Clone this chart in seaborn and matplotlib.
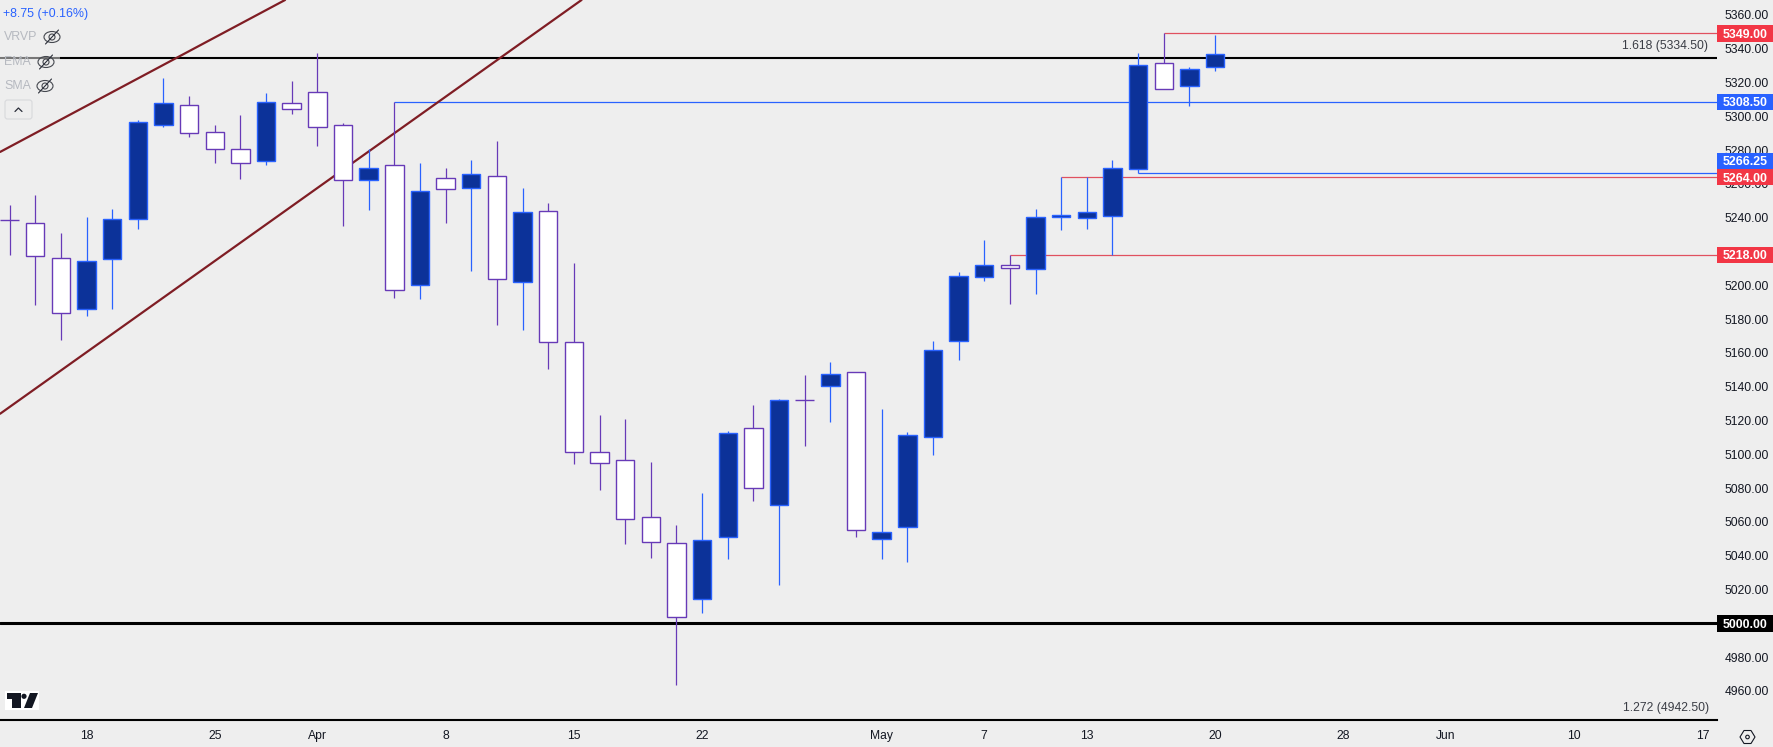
import matplotlib
matplotlib.use('Agg')
import matplotlib.pyplot as plt
from matplotlib.patches import Circle, Ellipse, FancyBboxPatch, Polygon, Rectangle
from matplotlib.transforms import blended_transform_factory
import numpy as np
import pandas as pd
import seaborn as sns

# daily candles, index 0 is 13 Mar
opens = [5238.5, 5236.7, 5216.0, 5185.8, 5215.4, 5239.5, 5294.7, 5306.5, 5290.5, 5280.5, 5273.4, 5307.7,
         5314.2, 5294.7, 5262.5, 5271.0, 5200.0, 5263.3, 5257.8, 5264.5, 5201.8, 5243.8, 5166.3, 5101.2,
         5096.5, 5062.8, 5047.4, 5014.2, 5050.9, 5115.4, 5069.9, 5132.0, 5140.3, 5148.5, 5049.7, 5056.8,
         5110.1, 5166.9, 5204.7, 5211.8, 5209.5, 5240.5, 5240.0, 5241.2, 5268.6, 5331.3, 5318.1, 5329.0]
highs = [5247.5, 5253.5, 5230.8, 5240.2, 5245.2, 5297.8, 5322.7, 5312.0, 5294.9, 5300.8, 5313.8, 5320.9,
         5337.3, 5295.8, 5280.5, 5308.5, 5272.4, 5269.4, 5274.2, 5285.4, 5257.6, 5248.7, 5213.2, 5123.3,
         5120.9, 5095.5, 5058.2, 5077.2, 5113.8, 5129.2, 5132.8, 5147.0, 5154.7, 5148.5, 5126.8, 5113.2,
         5167.1, 5207.9, 5226.8, 5218.0, 5245.2, 5264.0, 5264.0, 5274.2, 5337.5, 5349.0, 5329.2, 5348.1]
lows = [5218.0, 5188.4, 5167.7, 5182.1, 5186.2, 5233.3, 5293.7, 5288.0, 5272.6, 5262.9, 5271.4, 5301.4,
        5282.6, 5235.3, 5244.6, 5192.7, 5192.1, 5237.1, 5208.7, 5176.5, 5173.6, 5150.3, 5094.5, 5079.1,
        5047.2, 5038.9, 4963.8, 5006.4, 5038.3, 5072.6, 5022.9, 5105.2, 5119.4, 5051.3, 5038.3, 5036.5,
        5099.8, 5155.8, 5202.8, 5189.2, 5195.1, 5232.9, 5233.5, 5218.0, 5266.25, 5316.0, 5306.3, 5327.0]
closes = [5238.5, 5217.6, 5183.5, 5214.2, 5239.5, 5296.4, 5307.7, 5289.9, 5280.5, 5272.2, 5308.3, 5304.1,
          5293.5, 5262.1, 5269.2, 5197.1, 5255.6, 5256.8, 5265.7, 5203.6, 5243.2, 5166.3, 5101.2, 5094.7,
          5061.6, 5048.0, 5003.6, 5049.1, 5112.5, 5079.9, 5132.0, 5132.0, 5147.4, 5055.1, 5053.9, 5111.3,
          5161.6, 5205.3, 5211.8, 5210.1, 5240.2, 5241.5, 5243.2, 5269.2, 5330.2, 5316.0, 5327.8, 5336.7]

tick_bars = [3, 8, 12, 17, 22, 27, 34, 38, 42, 47, 52, 56, 61, 66]
tick_labels = ['18', '25', 'Apr', '8', '15', '22', 'May', '7', '13', '20', '28', 'Jun', '10', '17']
price_ticks = list(range(4960, 5361, 20))

# rising channel, two trendlines
channel_upper_x = [-0.37, 10.74]
channel_upper_y = [5278.9, 5368.8]
channel_lower_x = [-0.37, 22.3]
channel_lower_y = [5124.0, 5368.8]

# price levels drawn from a swing bar to the right edge
level_prices = [5349.0, 5308.5, 5266.25, 5264.0, 5218.0]
level_starts = [45, 15, 44, 41, 39]
level_colors = ['#e0505f', '#2962ff', '#2962ff', '#e0505f', '#e0505f']

badge_prices = [5349.0, 5308.5, 5273.6, 5264.0, 5218.0, 5000.0]
badge_labels = ['5349.00', '5308.50', '5266.25', '5264.00', '5218.00', '5000.00']
badge_colors = ['#f23645', '#2962ff', '#2962ff', '#f23645', '#f23645', '#000000']

BG = '#eeeeee'
BLUE = '#2962ff'
NAVY = '#0c3299'
PURPLE = '#673ab7'
INK = '#131722'
MAROON = '#7f1d24'

sns.set_theme(style='white', rc={'axes.facecolor': BG, 'figure.facecolor': BG})
plt.rcParams['font.family'] = ['Liberation Sans', 'DejaVu Sans']

W, H = 1774, 747
x_left, x_right = -0.374, 66.57
fig = plt.figure(figsize=(W / 100, H / 100), dpi=100)
ax = fig.add_axes([0, 27 / H, 1717 / W, 720 / H])

df = pd.DataFrame({'open': opens, 'high': highs, 'low': lows, 'close': closes})
df['bar'] = np.arange(len(df))
df['bottom'] = df[['open', 'close']].min(axis=1)
df['body'] = (df['close'] - df['open']).abs()
up = df[df['close'] > df['open']]
down = df[df['close'] <= df['open']]

# levels and trendlines sit behind the candles
ax.axhline(5334.5, color='black', lw=1.5, zorder=1)
ax.axhline(5000, color='black', lw=2.2, zorder=1)
for price, start, col in zip(level_prices, level_starts, level_colors):
    ax.hlines(price, start, x_right, color=col, lw=0.9, zorder=1)
sns.lineplot(x=channel_upper_x, y=channel_upper_y, color=MAROON, lw=1.6, ax=ax, zorder=1, errorbar=None)
sns.lineplot(x=channel_lower_x, y=channel_lower_y, color=MAROON, lw=1.6, ax=ax, zorder=1, errorbar=None)

ax.vlines(up['bar'], up['low'], up['high'], color=BLUE, lw=0.9, zorder=2)
ax.vlines(down['bar'], down['low'], down['high'], color=PURPLE, lw=0.9, zorder=2)
sns.barplot(data=up, x='bar', y='body', bottom=up['bottom'], native_scale=True, width=0.72, color=NAVY,
            saturation=1, edgecolor=BLUE, linewidth=1.0, errorbar=None, ax=ax, zorder=3)
sns.barplot(data=down, x='bar', y='body', bottom=down['bottom'], native_scale=True, width=0.72, color='white',
            saturation=1, edgecolor=PURPLE, linewidth=1.0, errorbar=None, ax=ax, zorder=3)

ax.set_xlim(x_left, x_right)
ax.set_ylim(4942.8, 5368.8)
ax.set_xlabel('')
ax.set_ylabel('')
ax.set_xticks(tick_bars)
ax.set_xticklabels(tick_labels)
ax.set_yticks(price_ticks)
ax.set_yticklabels(['%.2f' % p for p in price_ticks])
ax.yaxis.tick_right()
ax.tick_params(axis='x', length=0, pad=7.3, labelsize=8.7, colors=INK)
ax.tick_params(axis='y', length=0, pad=5.5, labelsize=8.7, colors=INK)
for side in ['left', 'right', 'top']:
    ax.spines[side].set_visible(False)
ax.spines['bottom'].set_color('black')
ax.spines['bottom'].set_linewidth(1.5)
ax.grid(False)

# price badges over the axis labels
trans = blended_transform_factory(ax.transAxes, ax.transData)
for price, label, col in zip(badge_prices, badge_labels, badge_colors):
    ax.add_patch(Rectangle((1.0, price - 4.9), 0.0325, 9.8, transform=trans, facecolor=col, edgecolor='none',
                           clip_on=False, zorder=6))
    ax.text(1.0165, price, label, transform=trans, color='white', fontsize=8.9, fontweight='bold',
            ha='center', va='center_baseline', clip_on=False, zorder=7)

ax.annotate('1.618 (5334.50)', xy=(x_right, 5334.5), xytext=(-9, 12), textcoords='offset pixels',
            ha='right', va='center', fontsize=8.7, color='#3a3d45')
ax.annotate('1.272 (4942.50)', xy=(x_right, 4942.8), xytext=(-8, 12), textcoords='offset pixels',
            ha='right', va='center', fontsize=8.7, color='#3a3d45')

# chart furniture, drawn on a full figure layer in pixel units
top = fig.add_axes([0, 0, 1, 1], zorder=5)
top.set_xlim(0, W)
top.set_ylim(H, 0)
top.axis('off')
top.patch.set_alpha(0)

top.add_patch(Rectangle((0, 50), 60, 17, facecolor=BG, alpha=0.5, edgecolor='none'))
top.text(3, 14, '+8.75 (+0.16%)', color=BLUE, fontsize=8.9, va='center')
for label, ty, ix in zip(['VRVP', 'EMA', 'SMA'], [37, 62, 86], [52, 46, 45]):
    top.text(4, ty, label, color='#b6b9c0', fontsize=8.9, va='center')
    top.add_patch(Ellipse((ix, ty), 16, 11, fill=False, edgecolor='#45484f', lw=0.8))
    top.add_patch(Circle((ix, ty), 3, fill=False, edgecolor='#45484f', lw=0.8))
    top.plot([ix - 6.5, ix + 6.5], [ty + 7, ty - 7], color='#2a2e39', lw=0.8)

top.add_patch(FancyBboxPatch((5, 100), 27, 19, boxstyle='round,pad=0,rounding_size=2.5', facecolor=BG,
                             edgecolor='#d8d9dc', lw=0.8))
top.plot([15, 18.4, 22], [111.5, 108, 111.5], color='#2a2e39', lw=0.9)

# logo, white halo then dark shapes
logo_t = [(7, 693), (21, 693), (21, 708), (12.5, 708), (12.5, 699), (7, 699)]
logo_s = [(30, 693), (38, 693), (32, 708), (24, 708)]
top.add_patch(Rectangle((5, 691), 34, 19, facecolor='white', edgecolor='none'))
top.add_patch(Polygon(logo_t, facecolor=INK, edgecolor='none'))
top.add_patch(Polygon(logo_s, facecolor=INK, edgecolor='none'))
top.add_patch(Circle((24, 696.3), 2.6, facecolor=INK, edgecolor='none'))

# settings hexagon, bottom right
hex_x, hex_y = 1747.5, 737
top.add_patch(Polygon([(hex_x - 7.5, hex_y), (hex_x - 3.5, hex_y - 6.5), (hex_x + 3.5, hex_y - 6.5),
                       (hex_x + 7.5, hex_y), (hex_x + 3.5, hex_y + 6.5), (hex_x - 3.5, hex_y + 6.5)],
                      fill=False, edgecolor=INK, lw=0.8))
top.add_patch(Circle((hex_x, hex_y), 1.8, fill=False, edgecolor=INK, lw=0.8))

fig.savefig('out.png', dpi=100, facecolor=BG)
